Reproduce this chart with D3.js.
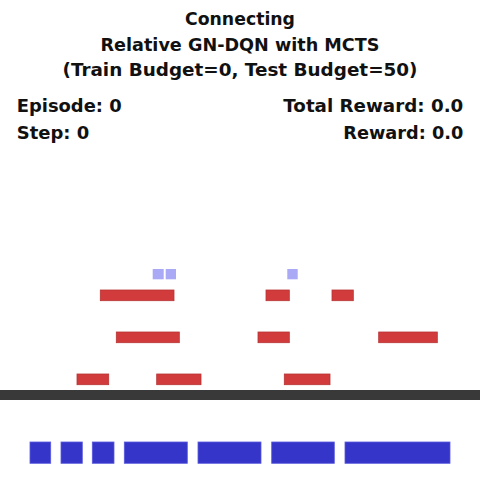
<!DOCTYPE html>
<html>
<head>
<meta charset="utf-8">
<script src="https://cdn.jsdelivr.net/npm/d3@7"></script>
<style>
  body { margin: 0; background: #fff; }
  text { font-family: "DejaVu Sans", sans-serif; font-weight: bold; fill: #111; }
</style>
</head>
<body>
<div id="vis"></div>
<script>
const FRAME_WIDTH = 480;
const FRAME_HEIGHT = 480;

// world is 48 x 48 units, 10 px per unit
const titleLines = ["Connecting", "Relative GN-DQN with MCTS", "(Train Budget=0, Test Budget=50)"];
const leftStats = ["Episode: 0", "Step: 0"];
const rightStats = ["Total Reward: 0.0", "Reward: 0.0"];

// blue blocks on the shelf: [x0, x1]
const blockSpans = [[3.0, 5.07], [6.1, 8.23], [9.23, 11.4], [12.43, 18.73], [19.8, 26.1], [27.17, 33.43], [34.5, 45.0]];
const blockRow = [44.2, 46.33];

// red obstacles, per row: [x0, x1]
const obstacleRows = [[29.0, 30.07], [33.2, 34.27], [37.4, 38.47]];
const obstacleSpans = [
  [[10.03, 17.4], [26.6, 28.93], [33.2, 35.33]],
  [[11.63, 17.93], [25.8, 28.93], [37.87, 43.73]],
  [[7.7, 10.87], [15.67, 20.1], [28.43, 33.0]]
];

// light blue targets
const targetSpans = [[15.27, 16.37], [16.57, 17.6], [28.73, 29.77]];
const targetRow = [26.9, 27.93];

const floorRow = [39.0, 40.0];

const x = d3.scaleLinear().domain([0, 48]).range([0, FRAME_WIDTH]);
const y = d3.scaleLinear().domain([0, 48]).range([0, FRAME_HEIGHT]);

const FRAME = d3.select("#vis")
  .append("svg")
    .attr("width", FRAME_WIDTH)
    .attr("height", FRAME_HEIGHT);

FRAME.append("rect")
  .attr("width", FRAME_WIDTH)
  .attr("height", FRAME_HEIGHT)
  .attr("fill", "#fff");

// floor
FRAME.append("rect")
  .attr("x", x(0))
  .attr("y", y(floorRow[0]))
  .attr("width", x(48) - x(0))
  .attr("height", y(floorRow[1]) - y(floorRow[0]))
  .attr("fill", "#393939");

// obstacles
const obstacles = [];
obstacleSpans.forEach((row, i) => row.forEach(s => obstacles.push({x0: s[0], x1: s[1], y0: obstacleRows[i][0], y1: obstacleRows[i][1]})));

FRAME.selectAll("rect.obstacle")
  .data(obstacles)
  .enter()
  .append("rect")
    .attr("class", "obstacle")
    .attr("x", d => x(d.x0))
    .attr("y", d => y(d.y0))
    .attr("width", d => x(d.x1) - x(d.x0))
    .attr("height", d => y(d.y1) - y(d.y0))
    .attr("fill", "#d23b3b")
    .attr("stroke", "#b83434")
    .attr("stroke-width", 0.8);

FRAME.selectAll("rect.target")
  .data(targetSpans)
  .enter()
  .append("rect")
    .attr("class", "target")
    .attr("x", d => x(d[0]))
    .attr("y", y(targetRow[0]))
    .attr("width", d => x(d[1]) - x(d[0]))
    .attr("height", y(targetRow[1]) - y(targetRow[0]))
    .attr("fill", "#a9a9f6");

FRAME.selectAll("rect.block")
  .data(blockSpans)
  .enter()
  .append("rect")
    .attr("class", "block")
    .attr("x", d => x(d[0]))
    .attr("y", y(blockRow[0]))
    .attr("width", d => x(d[1]) - x(d[0]))
    .attr("height", y(blockRow[1]) - y(blockRow[0]))
    .attr("fill", "#3535c9")
    .attr("stroke", "#5b5be0")
    .attr("stroke-width", 0.8);

// text
const titleBase = [25, 51, 76];
const titleLen = [110, 279, 355];
FRAME.selectAll("text.title")
  .data(titleLines)
  .enter()
  .append("text")
    .attr("class", "title")
    .attr("x", 240)
    .attr("y", (d, i) => titleBase[i])
    .attr("text-anchor", "middle")
    .attr("font-size", 17)
    .attr("textLength", (d, i) => titleLen[i])
    .attr("lengthAdjust", "spacingAndGlyphs")
    .text(d => d);

const statBase = [112, 139];
const leftLen = [105, 72.6];
const rightLen = [180, 120];
FRAME.selectAll("text.left")
  .data(leftStats)
  .enter()
  .append("text")
    .attr("class", "left")
    .attr("x", 16.7)
    .attr("y", (d, i) => statBase[i])
    .attr("font-size", 17)
    .attr("textLength", (d, i) => leftLen[i])
    .attr("lengthAdjust", "spacingAndGlyphs")
    .text(d => d);

FRAME.selectAll("text.right")
  .data(rightStats)
  .enter()
  .append("text")
    .attr("class", "right")
    .attr("x", (d, i) => 463.3 - rightLen[i])
    .attr("y", (d, i) => statBase[i])
    .attr("font-size", 17)
    .attr("textLength", (d, i) => rightLen[i])
    .attr("lengthAdjust", "spacingAndGlyphs")
    .text(d => d);
</script>
</body>
</html>
